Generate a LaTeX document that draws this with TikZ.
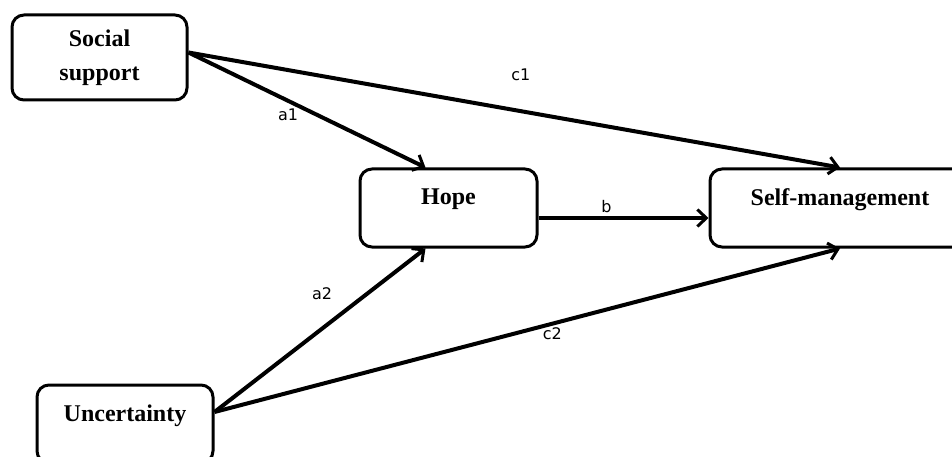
\documentclass[tikz,border=0pt]{standalone}
\usepackage{fontspec}
\setmainfont{Liberation Serif}
\newfontfamily\lblfont{DejaVu Sans}
\usetikzlibrary{arrows.meta, positioning}
\tikzset{
  varbox/.style={rectangle, rounded corners=12pt, draw=black, line width=3pt,
    fill=white, text=black, align=center, inner sep=0pt,
    font=\fontsize{24}{34}\selectfont\bfseries},
  arr/.style={-{Straight Barb[length=9pt, width=17pt, line width=3pt]},
    line width=4pt, color=black},
  lbl/.style={font=\lblfont\fontsize{16}{18}\selectfont, text=black},
}

\begin{document}
\begin{tikzpicture}[x=1pt, y=-1pt]
  \clip (0,0) rectangle (952,457);
  \fill[white] (0,0) rectangle (952,457);

  \node (soc)  [varbox, minimum width=175pt, minimum height=85pt] at (99.5,57.5) {Social\\support};
  \node (hope) [varbox, minimum width=177pt, minimum height=78pt] at (448.5,208) {Hope\\[-12pt]~};
  \node (self) [varbox, minimum width=260pt, minimum height=78pt, right=170pt of hope] {Self-management\\[-12pt]~};
  \node (unc)  [varbox, minimum width=176pt, minimum height=78pt] at (125,424) {Uncertainty\\[-12pt]~};

  \draw[arr] ([yshift=5pt]soc.east) -- node[lbl, pos=0.42, below=3pt]{a1} ([xshift=-23pt]hope.north);
  \draw[arr] ([yshift=5pt]soc.east) -- node[lbl, pos=0.51, above=25pt]{c1} (self.north);
  \draw[arr] ([yshift=-10pt]hope.east) -- node[lbl, pos=0.4, above]{b} ([yshift=-10pt]self.west);
  \draw[arr] ([yshift=12pt]unc.east) -- node[lbl, pos=0.51, above=24pt]{a2} ([xshift=-23pt]hope.south);
  \draw[arr] ([yshift=12pt]unc.east) -- node[lbl, pos=0.54, below=-1pt]{c2} (self.south);
\end{tikzpicture}
\end{document}
